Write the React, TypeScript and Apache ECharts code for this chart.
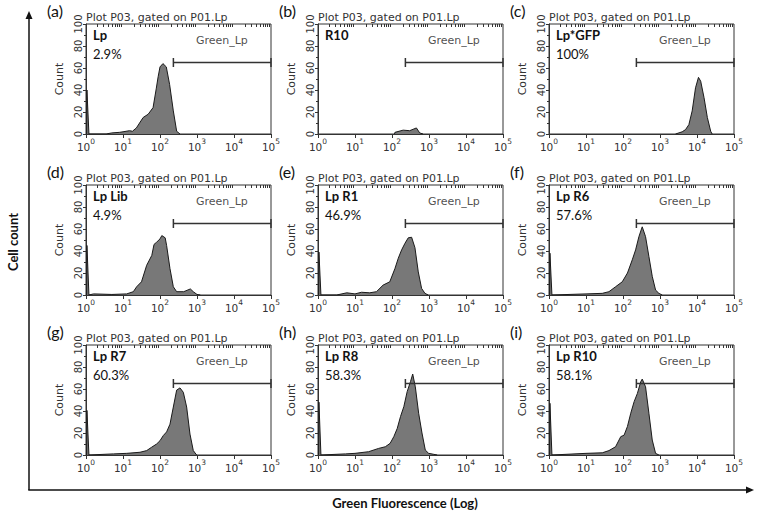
import React, { useEffect, useRef } from "react";
import * as echarts from "echarts";

// ---- data ----
const panelLetters = ["(a)", "(b)", "(c)", "(d)", "(e)", "(f)", "(g)", "(h)", "(i)"];
const sampleNames = ["Lp", "R10", "Lp*GFP", "Lp Lib", "Lp R1", "Lp R6", "Lp R7", "Lp R8", "Lp R10"];
const gatedPercents = ["2.9%", "", "100%", "4.9%", "46.9%", "57.6%", "60.3%", "58.3%", "58.1%"];
const plotTitle = "Plot P03, gated on P01.Lp";
const gateName = "Green_Lp";
const gateStart = 230;
const gateEnd = 100000;
const gateCount = 65;
const gateLabelPos: [number, number] = [4700, 85];
const xDecades = [1, 10, 100, 1000, 10000, 100000];
const minorMultipliers = [2, 3, 4, 5, 6, 7, 8, 9];

const histA: [number, number][] = [[1.04, 0], [1.06, 40], [1.1, 40], [1.2, 0], [3.5, 0], [5, 1], [8, 1.5], [10, 2], [15, 3], [18, 2.5], [23, 5.5], [35, 15], [48, 18], [65, 24], [79, 41], [89, 52], [100, 61], [120, 64], [148, 61], [182, 45], [229, 21], [282, 2.5], [347, 0]];
const histB: [number, number][] = [[117, 0], [120, 1.5], [200, 3.5], [300, 3], [457, 5.5], [560, 1], [690, 0]];
const histC: [number, number][] = [[2630, 0], [3980, 2], [4900, 4], [6030, 8.5], [7410, 21], [9120, 42], [10960, 51.5], [12590, 48], [15490, 33], [19050, 15], [23440, 2.5], [25700, 0]];
const histD: [number, number][] = [[1.04, 0], [1.06, 45], [1.1, 45], [1.2, 0], [1.6, 1], [5, 0.5], [12.6, 1], [19, 3], [23.4, 7.5], [31.6, 12], [43.6, 27], [60, 36], [69, 46], [81, 48], [100, 51], [112, 54], [138, 52], [151, 45], [186, 24], [229, 7.5], [282, 3], [437, 3], [661, 5.5], [794, 3], [1000, 0.5], [1230, 0]];
const histE: [number, number][] = [[1.04, 0], [1.06, 39], [1.1, 39], [1.2, 0], [3.2, 0], [6, 2], [10, 1], [15, 2.5], [25, 2], [38, 3], [57.5, 9], [87, 12], [120, 24], [148, 33.5], [182, 41], [224, 47], [275, 52], [339, 52.5], [417, 43], [513, 21], [631, 6], [776, 1.5], [955, 0]];
const histF: [number, number][] = [[1.04, 0], [1.06, 38], [1.1, 38], [1.2, 0], [10, 1], [27.5, 1.5], [41.7, 3], [63, 7.5], [95.5, 12], [132, 20], [178, 32], [219, 41], [269, 53], [331, 62], [407, 53], [501, 35], [617, 17], [759, 4.5], [933, 1.5], [1148, 0]];
const histG: [number, number][] = [[1.04, 0], [1.06, 40.5], [1.1, 40.5], [1.2, 0], [5.5, 1], [12.6, 1.5], [28.8, 2.5], [43.6, 4], [59, 7], [81, 10], [100, 13], [123, 17.7], [151, 21], [186, 28], [229, 43.6], [282, 59], [347, 61], [427, 57], [525, 43.6], [646, 19], [794, 4], [977, 0]];
const histH: [number, number][] = [[1.04, 0], [1.06, 48], [1.1, 48], [1.2, 0], [5.5, 1], [10, 1.5], [23.4, 3], [43.6, 6], [66, 7.5], [89, 10.6], [112, 16.7], [138, 24], [170, 35], [209, 44], [257, 57.6], [316, 66.7], [363, 73.6], [427, 62], [525, 38], [646, 20], [794, 4.5], [977, 1.5], [1349, 0.6], [1660, 0]];
const histI: [number, number][] = [[1.04, 0], [1.06, 47], [1.1, 47], [1.2, 0], [10, 1.5], [27.5, 2], [41.7, 4], [63, 7.5], [87, 16.7], [107, 18], [132, 26], [162, 38], [200, 48.5], [245, 56], [302, 66.7], [331, 69], [407, 62], [501, 38], [617, 13.6], [759, 1.5], [933, 0]];
const histograms = [histA, histB, histC, histD, histE, histF, histG, histH, histI];

// ---- layout ----
const colLeft = [86, 318, 549];
const rowTop = [24, 185, 345];
const PW = 185;
const PH = 110;
const AX = "DejaVu Sans";
const CAL = "Lato";

export default function App() {
  const ref = useRef<HTMLDivElement>(null);
  useEffect(() => {
    const chart = echarts.init(ref.current!, null, { renderer: "svg" });
    const minorTicks: number[] = [];
    xDecades.slice(0, 5).forEach((d) => minorMultipliers.forEach((m) => minorTicks.push(m * d)));

    const grid: any[] = [];
    const xAxis: any[] = [];
    const yAxis: any[] = [];
    const series: any[] = [];
    const graphic: any[] = [];

    for (let i = 0; i < 9; i++) {
      const r = Math.floor(i / 3);
      const c = i % 3;
      const L = colLeft[c];
      const T = rowTop[r];
      grid.push({ left: L, top: T, width: PW, height: PH, show: true, borderColor: "#333", borderWidth: 1, backgroundColor: "transparent" });
      xAxis.push({
        type: "log", gridIndex: i, min: 1, max: 100000, logBase: 10,
        splitLine: { show: false },
        axisLine: { lineStyle: { color: "#333", width: 1 } },
        axisTick: { show: true, length: 4, lineStyle: { color: "#333" } },
        axisLabel: {
          margin: 3,
          formatter: (v: number) => `{n|10}{s|${Math.round(Math.log10(v))}}`,
          rich: {
            n: { fontSize: 10.5, fontFamily: AX, color: "#333", verticalAlign: "bottom", lineHeight: 15 },
            s: { fontSize: 7.5, fontFamily: AX, color: "#333", verticalAlign: "top", lineHeight: 15 },
          },
        },
      });
      xAxis.push({
        type: "log", gridIndex: i, min: 1, max: 100000, logBase: 10,
        splitLine: { show: false },
        axisLine: { show: false },
        axisLabel: { show: false },
        axisTick: { show: true, inside: true, length: 3, customValues: minorTicks, lineStyle: { color: "#333" } },
      });
      yAxis.push({
        type: "value", gridIndex: i, min: 0, max: 100, interval: 20,
        name: "Count", nameLocation: "middle", nameGap: 21,
        nameTextStyle: { fontSize: 11, fontFamily: AX, color: "#333" },
        splitLine: { show: false },
        axisLine: { show: true, lineStyle: { color: "#333" } },
        axisTick: { show: true, length: 3, lineStyle: { color: "#333" } },
        minorTick: { show: true, splitNumber: 2, length: 2, lineStyle: { color: "#333" } },
        axisLabel: { rotate: 90, margin: 3, fontSize: 10, fontFamily: AX, color: "#333" },
      });
      series.push({
        type: "line", xAxisIndex: 2 * i, yAxisIndex: i, data: histograms[i],
        showSymbol: false, symbol: "none",
        lineStyle: { color: "#1a1a1a", width: 1 },
        areaStyle: { color: "#787878", opacity: 1 },
        silent: true,
      });
      series.push({
        type: "line", xAxisIndex: 2 * i, yAxisIndex: i,
        data: [[gateStart, gateCount], [gateEnd, gateCount]],
        symbol: "rect", symbolSize: [1.5, 9], showSymbol: true, clip: false,
        itemStyle: { color: "#333" },
        lineStyle: { color: "#333", width: 1.6 },
        silent: true,
      });
      series.push({
        type: "scatter", xAxisIndex: 2 * i, yAxisIndex: i,
        data: [gateLabelPos], symbolSize: 1, itemStyle: { color: "rgba(0,0,0,0)" },
        label: { show: true, position: "inside", formatter: gateName, fontSize: 11, fontFamily: AX, color: "#222" },
        silent: true,
      });
      graphic.push({ type: "text", x: L - 39, y: T - 14, style: { text: panelLetters[i], fontSize: 16, fontFamily: CAL, fill: "#111", align: "left", verticalAlign: "middle" } });
      graphic.push({ type: "text", x: L, y: T - 7, style: { text: plotTitle, fontSize: 11, fontFamily: AX, fill: "#333", align: "left", verticalAlign: "middle" } });
      graphic.push({ type: "text", x: L + 7, y: T + 11, style: { text: sampleNames[i], fontSize: 13, fontWeight: "bold", fontFamily: CAL, fill: "#111", align: "left", verticalAlign: "middle" } });
      if (gatedPercents[i]) {
        graphic.push({ type: "text", x: L + 7, y: T + 30, style: { text: gatedPercents[i], fontSize: 13, fontFamily: CAL, fill: "#111", align: "left", verticalAlign: "middle" } });
      }
    }

    // outer axes with arrows
    graphic.push({ type: "line", shape: { x1: 29, y1: 490, x2: 29, y2: 16 }, style: { stroke: "#111", lineWidth: 1.5 } });
    graphic.push({ type: "polygon", shape: { points: [[29, 11], [25.5, 19], [32.5, 19]] }, style: { fill: "#111" } });
    graphic.push({ type: "line", shape: { x1: 28.25, y1: 490, x2: 748, y2: 490 }, style: { stroke: "#111", lineWidth: 1.5 } });
    graphic.push({ type: "polygon", shape: { points: [[754, 490], [746, 486.5], [746, 493.5]] }, style: { fill: "#111" } });
    graphic.push({ type: "text", x: 13, y: 242, rotation: Math.PI / 2, style: { text: "Cell count", fontSize: 13, fontWeight: "bold", fontFamily: CAL, fill: "#111", align: "center", verticalAlign: "middle" } });
    graphic.push({ type: "text", x: 405, y: 503, style: { text: "Green Fluorescence (Log)", fontSize: 13, fontWeight: "bold", fontFamily: CAL, fill: "#111", align: "center", verticalAlign: "middle" } });

    chart.setOption({
      animation: false,
      backgroundColor: "#ffffff",
      grid, xAxis, yAxis, series, graphic,
    });
    return () => chart.dispose();
  }, []);
  return <div ref={ref} style={{ position: "absolute", left: 0, top: 0, width: 758, height: 511 }} />;
}
